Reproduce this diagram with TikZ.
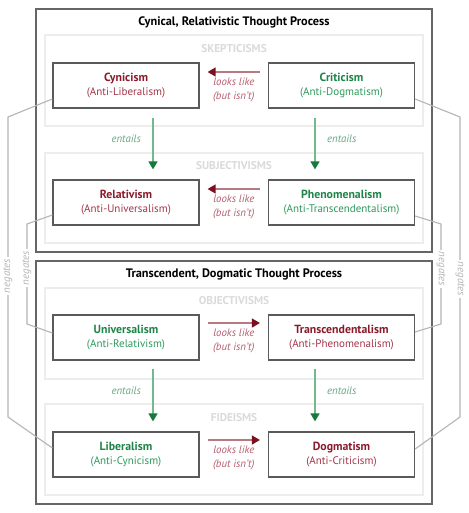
\documentclass[tikz,border=0pt]{standalone}
\usepackage{fontspec}
\setmainfont{PT Sans}
\usetikzlibrary{arrows.meta,positioning}
\definecolor{dred}{HTML}{8B1A2B}
\definecolor{mred}{HTML}{A3364A}
\definecolor{lred}{HTML}{B8797F}
\definecolor{tred}{HTML}{7A1020}
\definecolor{dgreen}{HTML}{1E8549}
\definecolor{mgreen}{HTML}{2E9A5C}
\definecolor{lgreen}{HTML}{72B990}
\definecolor{tgreen}{HTML}{17793A}
\definecolor{boxgray}{HTML}{5A5A5A}
\definecolor{outgray}{HTML}{666666}
\definecolor{grpgray}{HTML}{EDEDED}
\definecolor{grplabel}{HTML}{DADADA}
\definecolor{neggray}{HTML}{B5B5B5}
\newcommand{\ctfont}{\fontsize{11.8}{14}\selectfont\bfseries}
\begin{document}
\begin{tikzpicture}[x=1pt,y=-1pt,
  outerbox/.style={draw=outgray, line width=1.5pt, minimum width=396pt, minimum height=243pt, inner sep=0pt},
  grpbox/.style={draw=grpgray, line width=2pt, minimum width=378pt, minimum height=91pt, inner sep=0pt},
  grplab/.style={text=grplabel, font=\fontsize{11.3}{12}\selectfont\bfseries},
  ttl/.style={font=\fontsize{12.3}{14}\selectfont\bfseries, text=black},
  concept/.style={draw=boxgray, line width=1.3pt, fill=white, minimum width=146pt, minimum height=45pt, inner sep=0pt, align=center, font=\fontsize{11}{14}\selectfont},
  lookarrow/.style={draw=lred, line width=1.6pt, -{Triangle[width=9pt,length=8pt,color=tred]}, shorten <=8pt, shorten >=8pt},
  entarrow/.style={draw=lgreen, line width=1.6pt, -{Triangle[width=9pt,length=8pt,color=tgreen]}},
  looklab/.style={text=mred!80, font=\fontsize{10.8}{14}\selectfont\itshape, align=center},
  entlab/.style={text=lgreen!90!black, font=\fontsize{10.8}{12}\selectfont\itshape},
  negline/.style={draw=neggray, line width=1.1pt},
  neglab/.style={text=neggray, fill=white, inner sep=1.5pt, font=\fontsize{10.8}{12}\selectfont\itshape}
]
\useasboundingbox (0,0) rectangle (468,513);
\fill[white] (0,0) rectangle (468,513);

% outer boxes
\node[outerbox] (cp) at (234,130.5) {};
\node[ttl] (cpt) at ([yshift=-14pt]cp.north) {Cynical, Relativistic Thought Process};
\node[outerbox] (tp) at (234,382.5) {};
\node[ttl] (tpt) at ([yshift=-14pt]tp.north) {Transcendent, Dogmatic Thought Process};

% group boxes
\node[grpbox] (g1) at (234,80.5) {};
\node[grplab] (g1l) at ([yshift=-15pt]g1.north) {SKEPTICISMS};
\node[grpbox, minimum height=90pt] (g2) at (234,198) {};
\node[grplab] (g2l) at ([yshift=-14pt]g2.north) {SUBJECTIVISMS};
\node[grpbox] (g3) at (234,333.5) {};
\node[grplab] (g3l) at ([yshift=-14pt]g3.north) {OBJECTIVISMS};
\node[grpbox] (g4) at (234,449.5) {};
\node[grplab] (g4l) at ([yshift=-15pt]g4.north) {FIDEISMS};

% concept boxes
\node[concept] (cyn) at (126,85.5) {\textcolor{dred}{\ctfont Cynicism}\\\textcolor{mred}{(Anti-Liberalism)}};
\node[concept] (cri) at (341.5,85.5) {\textcolor{dgreen}{\ctfont Criticism}\\\textcolor{mgreen}{(Anti-Dogmatism)}};
\node[concept] (rel) at (126,202.5) {\textcolor{dred}{\ctfont Relativism}\\\textcolor{mred}{(Anti-Universalism)}};
\node[concept] (phe) at (341.5,202.5) {\textcolor{dgreen}{\ctfont Phenomenalism}\\\textcolor{mgreen}{(Anti-Transcendentalism)}};
\node[concept] (uni) at (126,337.5) {\textcolor{dgreen}{\ctfont Universalism}\\\textcolor{mgreen}{(Anti-Relativism)}};
\node[concept] (tra) at (341.5,337.5) {\textcolor{dred}{\ctfont Transcendentalism}\\\textcolor{mred}{(Anti-Phenomenalism)}};
\node[concept] (lib) at (126,454.5) {\textcolor{dgreen}{\ctfont Liberalism}\\\textcolor{mgreen}{(Anti-Cynicism)}};
\node[concept] (dog) at (341.5,454.5) {\textcolor{dred}{\ctfont Dogmatism}\\\textcolor{mred}{(Anti-Criticism)}};

% looks like arrows
\draw[lookarrow] ([yshift=13.5pt]cri.west) -- node[looklab, below=2pt] {looks like\\(but isn't)} ([yshift=13.5pt]cyn.east);
\draw[lookarrow] ([yshift=13.5pt]phe.west) -- node[looklab, below=2pt] {looks like\\(but isn't)} ([yshift=13.5pt]rel.east);
\draw[lookarrow] ([yshift=14.5pt]uni.east) -- node[looklab, below=2pt] {looks like\\(but isn't)} ([yshift=14.5pt]tra.west);
\draw[lookarrow] ([yshift=14.5pt]lib.east) -- node[looklab, below=2pt] {looks like\\(but isn't)} ([yshift=14.5pt]dog.west);

% entails arrows
\draw[entarrow, shorten <=9pt, shorten >=10pt] ([xshift=27pt]cyn.south) -- node[entlab, pos=.43, left=8pt] {entails} ([xshift=27pt]rel.north);
\draw[entarrow, shorten <=9pt, shorten >=10pt] ([xshift=-26.5pt]cri.south) -- node[entlab, pos=.43, right=8pt] {entails} ([xshift=-26.5pt]phe.north);
\draw[entarrow, shorten <=8pt, shorten >=10pt] ([xshift=27pt]uni.south) -- node[entlab, pos=.43, left=8pt] {entails} ([xshift=27pt]lib.north);
\draw[entarrow, shorten <=8pt, shorten >=10pt] ([xshift=-26.5pt]tra.south) -- node[entlab, pos=.43, right=8pt] {entails} ([xshift=-26.5pt]dog.north);

% negates connectors
\coordinate (lo1) at (8,117);
\coordinate (lo2) at (8,417);
\coordinate (li1) at (27,224);
\coordinate (li2) at (27,324);
\coordinate (ro1) at (460,117);
\coordinate (ro2) at (460,417);
\coordinate (ri1) at (441,224);
\coordinate (ri2) at (441,324);
\draw[negline] ([yshift=-13.5pt]cyn.west) -- (lo1) -- node[neglab, pos=.53, rotate=90] {negates} (lo2) -- ([yshift=6.5pt]lib.west);
\draw[negline] ([yshift=-12.5pt]rel.west) -- (li1) -- node[neglab, pos=.44, rotate=90] {negates} (li2) -- ([yshift=4.5pt]uni.west);
\draw[negline] ([yshift=-13.5pt]cri.east) -- (ro1) -- node[neglab, pos=.54, rotate=-90] {negates} (ro2) -- ([yshift=5.5pt]dog.east);
\draw[negline] ([yshift=-13.5pt]phe.east) -- (ri1) -- node[neglab, pos=.45, rotate=-90] {negates} (ri2) -- ([yshift=5.5pt]tra.east);
\end{tikzpicture}
\end{document}
